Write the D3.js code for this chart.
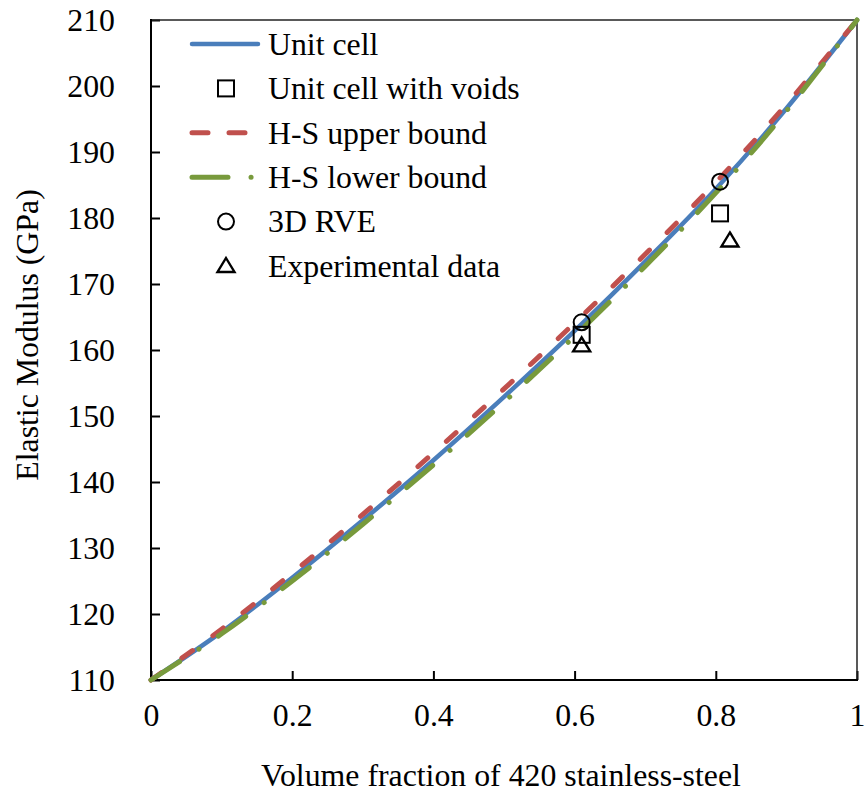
<!DOCTYPE html>
<html><head><meta charset="utf-8">
<script src="https://cdn.jsdelivr.net/npm/d3@7/dist/d3.min.js"></script>
<style>body{margin:0;background:#fff}svg{display:block}svg text{font-family:"Liberation Serif","Times New Roman",Tinos,"DejaVu Serif","Noto Serif",serif !important;fill:#000}</style>
</head><body><svg id="c" width="865" height="795"></svg>
<script>
const volumeFraction = [0, 0.1, 0.2, 0.3, 0.4, 0.5, 0.6, 0.7, 0.8, 0.9, 1.0];
const unitCell   = [110, 117.3, 125.5, 134.2, 143.3, 152.9, 162.9, 173.4, 184.4, 196.6, 210];
const hsUpper    = [110, 117.7, 126.2, 135.1, 144.4, 154.1, 164.1, 174.5, 185.4, 197.2, 210];
const hsLower    = [110, 117.0, 125.0, 133.6, 142.6, 152.1, 162.1, 172.7, 183.8, 196.2, 210];
const voidsX = [0.61, 0.806];   const voidsY = [162.3, 180.7];
const rveX   = [0.61, 0.806];   const rveY   = [164.2, 185.5];
const expX   = [0.61, 0.82];    const expY   = [160.7, 176.6];
const xTicks = [0, 0.2, 0.4, 0.6, 0.8, 1];
const yTicks = [110, 120, 130, 140, 150, 160, 170, 180, 190, 200, 210];
const legendLabels = ["Unit cell", "Unit cell with voids", "H-S upper bound", "H-S lower bound", "3D RVE", "Experimental data"];

const L = 151, R = 857, T = 20, B = 680;
const svg = d3.select("#c");
const x = d3.scaleLinear().domain([0, 1]).range([L, R]);
const y = d3.scaleLinear().domain([110, 210]).range([B, T]);
const FS = 31.8;
const FF = "'Liberation Serif','Times New Roman',Tinos,'DejaVu Serif',serif";

const yAx = d3.axisLeft(y).tickValues(yTicks).tickSize(-9).tickPadding(36).tickFormat(d3.format("d"));
const gy = svg.append("g").attr("transform", `translate(${L},0)`).call(yAx).attr("font-family", FF);
gy.select(".domain").remove();
gy.selectAll("line").attr("stroke", "#000").attr("stroke-width", 2);
gy.selectAll("text").attr("font-size", FS).attr("dy", "0.34em");

const xAx = d3.axisBottom(x).tickValues(xTicks).tickSize(-9).tickPadding(23).tickFormat(d => d === 0 || d === 1 ? d3.format("d")(d) : d3.format(".1f")(d));
const gx = svg.append("g").attr("transform", `translate(0,${B})`).call(xAx).attr("font-family", FF);
gx.select(".domain").remove();
gx.selectAll("line").attr("stroke", "#000").attr("stroke-width", 2);
gx.selectAll("text").attr("font-size", FS).attr("dy", "0.71em");

svg.append("line").attr("x1", L).attr("x2", R).attr("y1", T).attr("y2", T).attr("stroke", "#222").attr("stroke-width", 1.5);
svg.append("line").attr("x1", R).attr("x2", R).attr("y1", T).attr("y2", B).attr("stroke", "#222").attr("stroke-width", 1.5);
svg.append("line").attr("x1", L).attr("x2", L).attr("y1", T - 1).attr("y2", B + 1).attr("stroke", "#000").attr("stroke-width", 2);
svg.append("line").attr("x1", L - 1).attr("x2", R + 1).attr("y1", B).attr("y2", B).attr("stroke", "#000").attr("stroke-width", 2);

svg.append("text").attr("x", 501).attr("y", 786).attr("text-anchor", "middle").attr("font-size", FS).attr("font-family", FF).text("Volume fraction of 420 stainless-steel");
svg.append("text").attr("transform", "translate(38,335) rotate(-90)").attr("text-anchor", "middle").attr("font-size", FS).attr("font-family", FF).text("Elastic Modulus (GPa)");

const line = d3.line().x(d => x(d[0])).y(d => y(d[1])).curve(d3.curveCatmullRom);
const series = [
  {v: unitCell, color: "#4A7EBB", dash: null, w: 4.5},
  {v: hsUpper, color: "#C0504D", dash: "13,25", w: 5},
  {v: hsLower, color: "#789A3C", dash: "34,23,0.1,23", w: 5}
];
series.forEach(s => {
  svg.append("path").datum(volumeFraction.map((f, i) => [f, s.v[i]]))
    .attr("d", line).attr("fill", "none").attr("stroke", s.color).attr("stroke-width", s.w)
    .attr("stroke-linecap", "round").attr("stroke-dasharray", s.dash);
});

function square(g, cx, cy) { g.append("rect").attr("x", cx - 8).attr("y", cy - 8).attr("width", 16).attr("height", 16).attr("fill", "none").attr("stroke", "#000").attr("stroke-width", 2); }
function circle(g, cx, cy) { g.append("circle").attr("cx", cx).attr("cy", cy).attr("r", 8).attr("fill", "none").attr("stroke", "#000").attr("stroke-width", 2); }
function tri(g, cx, cy) { g.append("path").attr("d", `M${cx},${cy - 8}L${cx + 8.5},${cy + 6}L${cx - 8.5},${cy + 6}Z`).attr("fill", "none").attr("stroke", "#000").attr("stroke-width", 2.4).attr("stroke-linejoin", "miter"); }
const mk = svg.append("g");
voidsX.forEach((f, i) => square(mk, x(f), y(voidsY[i])));
rveX.forEach((f, i) => circle(mk, x(f), y(rveY[i])));
expX.forEach((f, i) => tri(mk, x(f), y(expY[i])));

const lg = svg.append("g");
const rowY = i => 44 + i * 44.4;
legendLabels.forEach((t, i) => {
  lg.append("text").attr("x", 268).attr("y", rowY(i)).attr("dy", "0.34em").attr("font-size", FS).attr("font-family", FF).text(t);
});
lg.append("line").attr("x1", 192).attr("x2", 258).attr("y1", rowY(0)).attr("y2", rowY(0)).attr("stroke", "#4A7EBB").attr("stroke-width", 4.5).attr("stroke-linecap", "round");
square(lg, 226, rowY(1));
lg.append("line").attr("x1", 192).attr("x2", 260).attr("y1", rowY(2)).attr("y2", rowY(2)).attr("stroke", "#C0504D").attr("stroke-width", 5).attr("stroke-linecap", "round").attr("stroke-dasharray", "16,21");
lg.append("line").attr("x1", 192).attr("x2", 260).attr("y1", rowY(3)).attr("y2", rowY(3)).attr("stroke", "#789A3C").attr("stroke-width", 5).attr("stroke-linecap", "round").attr("stroke-dasharray", "36,23,0.1,40");
circle(lg, 226, rowY(4));
tri(lg, 226, rowY(5));
</script></body></html>
